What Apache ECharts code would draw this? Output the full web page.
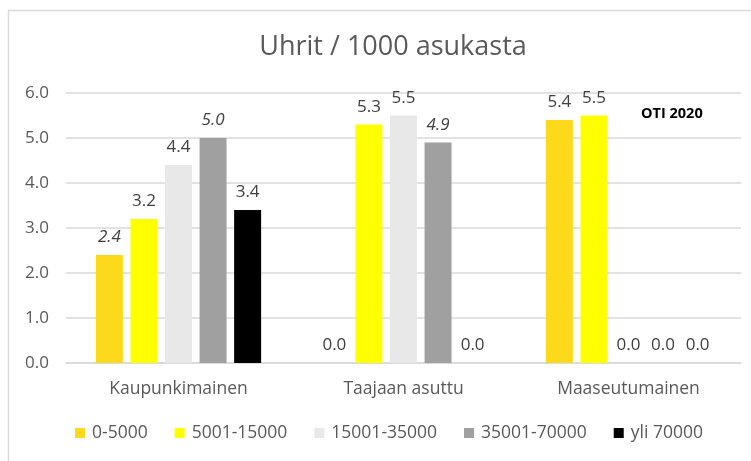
<!DOCTYPE html>
<html>
<head>
<meta charset="utf-8">
<script src="https://cdn.jsdelivr.net/npm/echarts@6/dist/echarts.min.js"></script>
<style>
  html, body { margin: 0; padding: 0; background: #fff; }
  #chart { width: 751px; height: 461px; }
</style>
</head>
<body>
<div id="chart"></div>
<script>
// Area types and population classes
const categories = ['Kaupunkimainen', 'Taajaan asuttu', 'Maaseutumainen'];
const seriesNames = ['0-5000', '5001-15000', '15001-35000', '35001-70000', 'yli 70000'];

// Victims per 1000 inhabitants, one array per population class
const pop0to5000 = [2.4, 0.0, 5.4];
const pop5001to15000 = [3.2, 5.3, 5.5];
const pop15001to35000 = [4.4, 5.5, 0.0];
const pop35001to70000 = [5.0, 4.9, 0.0];
const popOver70000 = [3.4, 0.0, 0.0];

// Value labels drawn in italics (per series, per category)
const italicLabels = [
  [true, false, false],
  [false, false, false],
  [false, false, false],
  [true, true, false],
  [false, false, false]
];

const yTicks = [0, 1, 2, 3, 4, 5, 6];

const seriesData = [pop0to5000, pop5001to15000, pop15001to35000, pop35001to70000, popOver70000];
const colors = ['#FCD91A', '#FFFF00', '#E8E8E8', '#A0A0A0', '#000000'];

const FONT = '"Segoe UI", "Open Sans", "Noto Sans", sans-serif';

const chart = echarts.init(document.getElementById('chart'), null, { renderer: 'canvas' });

chart.setOption({
  animation: false,
  backgroundColor: '#ffffff',
  color: colors,
  title: {
    text: 'Uhrit / 1000 asukasta',
    left: 388,
    top: 29,
    textAlign: 'center',
    textStyle: { fontFamily: FONT, fontSize: 27, fontWeight: 'normal', color: '#595959' }
  },
  legend: {
    data: seriesNames,
    left: 75,
    top: 424,
    padding: 0,
    itemWidth: 10,
    itemHeight: 10,
    itemGap: 27,
    icon: 'rect',
    textStyle: { fontFamily: FONT, fontSize: 17.5, color: '#595959', padding: [0, 0, 0, 2] }
  },
  grid: { left: 66, right: 10, top: 93, bottom: 98, containLabel: false },
  xAxis: {
    type: 'category',
    data: categories,
    axisLine: { lineStyle: { color: '#D9D9D9', width: 1.5 } },
    axisTick: { show: false },
    axisLabel: { fontFamily: FONT, fontSize: 17.5, color: '#595959', margin: 17 }
  },
  yAxis: {
    type: 'value',
    min: yTicks[0],
    max: yTicks[yTicks.length - 1],
    interval: 1,
    axisLine: { show: false },
    axisTick: { show: false },
    splitLine: { lineStyle: { color: '#D9D9D9', width: 1.5 } },
    axisLabel: {
      fontFamily: FONT, fontSize: 17, color: '#595959', margin: 17,
      formatter: v => v.toFixed(1)
    }
  },
  series: seriesNames.map((name, i) => ({
    name,
    type: 'bar',
    barWidth: 27,
    barGap: '28%',
    data: seriesData[i].map((v, j) => ({
      value: v,
      label: { fontStyle: italicLabels[i][j] ? 'italic' : 'normal' }
    })),
    itemStyle: { color: colors[i] },
    label: {
      show: true,
      position: 'top',
      distance: 9,
      fontFamily: FONT,
      fontSize: 17,
      color: '#404040',
      formatter: p => p.value.toFixed(1)
    }
  })),
  graphic: [
    {
      type: 'rect',
      shape: { x: 8.5, y: 10.5, width: 800, height: 500 },
      style: { fill: 'none', stroke: '#D9D9D9', lineWidth: 1.5 },
      silent: true,
      z: 0
    },
    {
      type: 'text',
      x: 641,
      y: 106,
      style: {
        text: 'OTI 2020',
        fontFamily: FONT,
        fontSize: 14.5,
        fontWeight: 'bold',
        fill: '#000000'
      }
    }
  ]
});
</script>
</body>
</html>
